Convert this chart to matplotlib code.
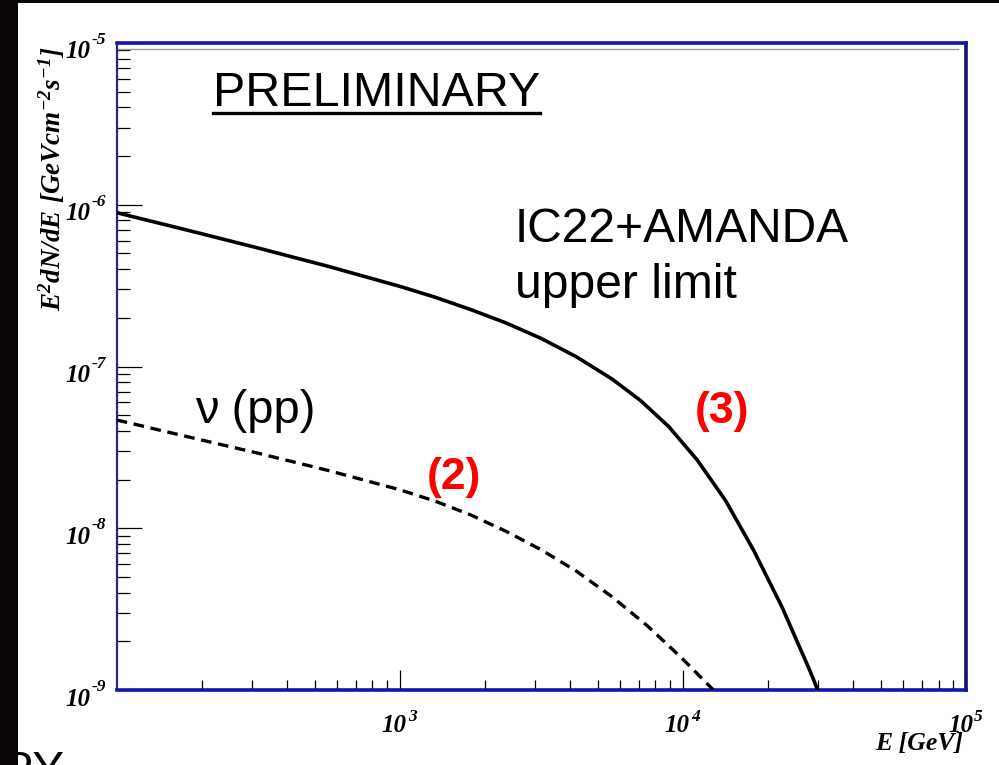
import matplotlib
matplotlib.use("Agg")
import matplotlib.pyplot as plt
from matplotlib.patches import Rectangle
from matplotlib.ticker import FixedLocator, NullFormatter

plt.rcParams["mathtext.fontset"] = "custom"
plt.rcParams["mathtext.rm"] = "Liberation Serif:italic:bold"
plt.rcParams["mathtext.it"] = "Liberation Serif:italic:bold"
plt.rcParams["mathtext.default"] = "rm"

# IC22+AMANDA upper limit (solid)
limit_energy = [100, 178, 316, 562, 1000, 1334, 1778, 2371, 3162, 4217,
                5623, 7079, 8913, 11220, 14125, 17783, 22387, 28184, 29923]
limit_flux = [8.93e-7, 6.96e-7, 5.40e-7, 4.15e-7, 3.13e-7, 2.68e-7, 2.25e-7,
              1.86e-7, 1.49e-7, 1.145e-7, 8.36e-8, 6.17e-8, 4.25e-8, 2.65e-8,
              1.49e-8, 7.30e-9, 3.26e-9, 1.30e-9, 1.0e-9]

# neutrino flux from pp interactions (dashed)
pp_energy = [100, 178, 316, 562, 1000, 1334, 1778, 2371, 3162, 4217, 5623,
             7499, 10000, 12816]
pp_flux = [4.67e-8, 3.68e-8, 2.91e-8, 2.27e-8, 1.73e-8, 1.47e-8, 1.21e-8,
           9.58e-9, 7.35e-9, 5.41e-9, 3.77e-9, 2.49e-9, 1.55e-9, 1.0e-9]

x_major = [1e3, 1e4, 1e5]
x_exponents = ["3", "4", "5"]
y_major = [1e-9, 1e-8, 1e-7, 1e-6, 1e-5]
y_exponents = ["-9", "-8", "-7", "-6", "-5"]

W, H = 999, 765
PT = 0.72  # points per pixel at 100 dpi
fig = plt.figure(figsize=(W / 100, H / 100), dpi=100)
ax = fig.add_axes([116.7 / W, 1 - 690 / H, (966 - 116.7) / W, (690 - 43) / H])

ax.set_xscale("log")
ax.set_yscale("log")
ax.set_xlim(100, 1e5)
ax.set_ylim(1e-9, 1e-5)

ax.plot(limit_energy, limit_flux, color="black", lw=2.6,
        solid_joinstyle="round", zorder=3)
ax.plot(pp_energy, pp_flux, color="black", lw=2.4, linestyle=(0, (3.2, 2.0)),
        dash_capstyle="butt", zorder=3)

# ticks (drawn inward on the left and bottom only)
minor_x = [m * 10 ** d for d in (2, 3, 4) for m in range(2, 10)]
minor_y = [m * 10.0 ** d for d in (-9, -8, -7, -6) for m in range(2, 10)]
ax.xaxis.set_major_locator(FixedLocator(x_major))
ax.xaxis.set_minor_locator(FixedLocator(minor_x))
ax.yaxis.set_major_locator(FixedLocator(y_major))
ax.yaxis.set_minor_locator(FixedLocator(minor_y))
for axis in (ax.xaxis, ax.yaxis):
    axis.set_major_formatter(NullFormatter())
    axis.set_minor_formatter(NullFormatter())

ax.tick_params(axis="x", which="major", direction="in", length=14.5, width=0.9,
               top=False, color="black")
ax.tick_params(axis="x", which="minor", direction="in", length=7.2, width=0.9,
               top=False)
ax.tick_params(axis="y", which="major", direction="in", length=18, width=0.9,
               right=False)
ax.tick_params(axis="y", which="minor", direction="in", length=9.2, width=0.9,
               right=False)

# tick labels written as "10" with a raised exponent
lab = dict(family="Liberation Serif", style="italic", weight="bold",
           annotation_clip=False)
for val, ex in zip(y_major, y_exponents):
    ax.annotate("10", xy=(0, val), xycoords=ax.get_yaxis_transform(),
                xytext=(-26.5 * PT, -15.5 * PT), textcoords="offset points",
                ha="right", va="baseline", fontsize=18, **lab)
    ax.annotate(ex, xy=(0, val), xycoords=ax.get_yaxis_transform(),
                xytext=(-25.5 * PT, -1 * PT), textcoords="offset points",
                ha="left", va="baseline", fontsize=12.5, **lab)
for val, ex in zip(x_major, x_exponents):
    ax.annotate("10", xy=(val, 0), xycoords=ax.get_xaxis_transform(),
                xytext=(7 * PT, -42 * PT), textcoords="offset points",
                ha="right", va="baseline", fontsize=18, **lab)
    ax.annotate(ex, xy=(val, 0), xycoords=ax.get_xaxis_transform(),
                xytext=(8 * PT, -31 * PT), textcoords="offset points",
                ha="left", va="baseline", fontsize=12.5, **lab)

# frame
for side in ("top", "bottom"):
    ax.spines[side].set_color("#1414b0")
    ax.spines[side].set_linewidth(2.6)
ax.spines["right"].set_color("#14146e")
ax.spines["right"].set_linewidth(2.6)
ax.spines["left"].set_color("#28287a")
ax.spines["left"].set_linewidth(1.6)

# thin grey rule just below the top frame
ax.plot([0.0, 0.99], [0.991, 0.991], transform=ax.transAxes, color="#999999",
        lw=1.0, clip_on=False)

# axis titles
fig.text(52 / W, 1 - 46 / H,
         r"$E^{2}dN/dE\ [GeVcm^{-2}s^{-1}]$",
         rotation=90, ha="center", va="top", fontsize=19.5)
fig.text(963 / W, 1 - 750 / H, "E [GeV]", ha="right", va="baseline",
         fontsize=18.5, family="Liberation Serif", style="italic",
         weight="bold")

# annotations
sans = "Liberation Sans"
fig.text(213 / W, 1 - 93 / H, "PRELIMINARY", fontsize=34.8, family=sans,
         ha="left", va="center")
fig.add_artist(plt.Line2D([213 / W, 540 / W], [1 - 113 / H, 1 - 113 / H],
                          color="black", lw=2.4))
fig.text(515 / W, 1 - 230 / H, "IC22+AMANDA", fontsize=34.6, family=sans,
         ha="left", va="center")
fig.text(515 / W, 1 - 286 / H, "upper limit", fontsize=34.6, family=sans,
         ha="left", va="center")
fig.text(195 / W, 1 - 411 / H, "ν (pp)", fontsize=34, family=sans,
         ha="left", va="center")
fig.text(722 / W, 1 - 412 / H, "(3)", fontsize=32, family=sans,
         weight="bold", color="#ff0000", ha="center", va="center")
fig.text(454 / W, 1 - 477 / H, "(2)", fontsize=32, family=sans,
         weight="bold", color="#ff0000", ha="center", va="center")

# text running off the lower-left corner
fig.text(1 / W, 1 - 784 / H, "PY", fontsize=34, family=sans, ha="left",
         va="baseline", zorder=1)

# black border strips
fig.add_artist(Rectangle((0, 0), 18 / W, 1, transform=fig.transFigure,
                         facecolor="#0a0505", edgecolor="none", zorder=10))
fig.add_artist(Rectangle((0, 1 - 3 / H), 1, 3 / H, transform=fig.transFigure,
                         facecolor="#0a0505", edgecolor="none", zorder=10))

fig.savefig("out.png", dpi=100)
